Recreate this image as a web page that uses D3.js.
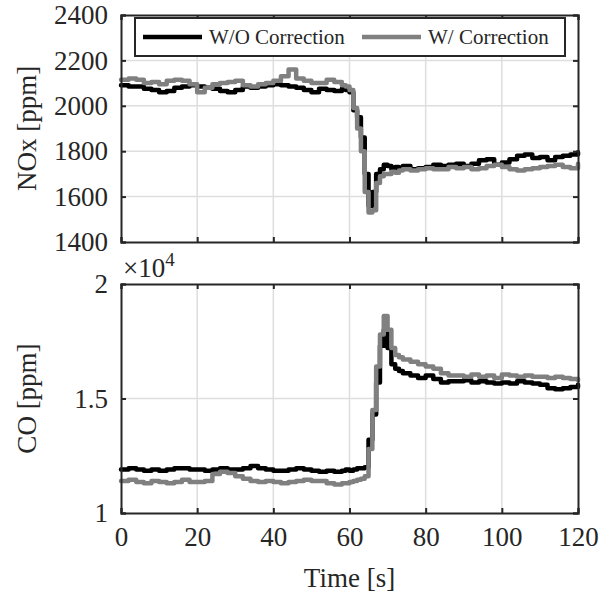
<!DOCTYPE html>
<html>
<head>
<meta charset="utf-8">
<script src="https://cdn.jsdelivr.net/npm/d3@7"></script>
<style>
  body { margin: 0; background: #fff; }
  svg text { font-family: "Liberation Serif", "Times New Roman", "Nimbus Roman", "DejaVu Serif", serif; fill: #262626; }
</style>
</head>
<body>
<div id="chart"></div>
<script>
// DATA (time in s)
var time = [0,2,4,6,8,10,12,14,16,18,20,22,24,26,28,30,32,34,36,38,40,42,44,46,48,50,52,54,56,58,
    59,60,61,62,63,64,65,66,67,68,69,70,71,72,73,74,
    76,78,80,82,84,86,88,90,92,94,96,98,100,102,104,106,108,110,112,114,116,118,120];

var noxWo = [2090,2085,2085,2075,2070,2060,2065,2080,2085,2090,2085,2080,2075,2065,2060,2070,2085,2080,2085,2090,2095,2090,2085,2080,2070,2060,2075,2070,2065,2075,
    2070,2060,1980,1950,1860,1700,1560,1620,1700,1720,1740,1735,1720,1730,1725,1735,
    1720,1725,1730,1740,1735,1740,1745,1735,1745,1760,1765,1740,1750,1765,1780,1785,1770,1775,1760,1775,1780,1785,1795];

var noxW = [2115,2120,2115,2100,2105,2095,2110,2115,2110,2095,2060,2080,2095,2100,2105,2110,2090,2085,2095,2100,2110,2130,2160,2120,2110,2100,2100,2115,2105,2090,
    2085,2070,1990,1900,1800,1620,1530,1540,1660,1690,1700,1700,1710,1705,1715,1720,
    1715,1720,1725,1720,1720,1730,1725,1730,1720,1725,1735,1740,1730,1720,1715,1720,1725,1730,1735,1740,1730,1725,1745];

var coWo = [11900,11950,11900,11850,11900,11850,11900,11950,11950,11900,11900,11850,11900,11950,11900,11900,11950,12050,11950,11900,11850,11850,11900,11950,11900,11850,11800,11850,11800,11850,
    11900,11850,11900,11950,11950,12000,13200,14300,15700,17300,18000,17200,16500,16300,16200,16100,
    16000,15900,16000,15850,15700,15750,15750,15800,15700,15750,15700,15650,15700,15650,15750,15700,15650,15600,15450,15400,15450,15500,15600];

var coW = [11400,11450,11350,11300,11400,11350,11300,11350,11450,11350,11350,11400,11700,11800,11750,11600,11500,11400,11350,11400,11350,11300,11350,11400,11450,11400,11400,11300,11250,11300,
    11300,11350,11400,11450,11500,11600,12800,14500,16400,17800,18600,18000,17200,16900,16800,16700,
    16600,16500,16400,16300,16100,16000,16000,15950,16050,15950,16000,15900,16050,16000,15950,16000,15950,15950,15900,15950,15900,15850,15800];

var xTicks = [0,20,40,60,80,100,120];
var noxTicks = [1400,1600,1800,2000,2200,2400];
var coTicks = [10000,15000,20000];
var coTickLabels = ["1","1.5","2"];
var seriesNames = ["W/O Correction", "W/ Correction"];
var seriesColors = ["#000000", "#808080"];

// LAYOUT
var width = 611, height = 593;
var left = 121, right = 578;
var top1 = 15, bottom1 = 242;
var top2 = 284, bottom2 = 513;
var fontSize = 27;

var svg = d3.select("#chart").append("svg")
    .attr("width", width)
    .attr("height", height);

var x = d3.scaleLinear().domain([0, 120]).range([left, right]);
var yNox = d3.scaleLinear().domain([1400, 2400]).range([bottom1, top1]);
var yCo = d3.scaleLinear().domain([10000, 20000]).range([bottom2, top2]);

function drawPanel(y, yTicks, yTickFormat, series, yLabel, showX) {
    var y0 = y.range()[0], y1 = y.range()[1];
    var g = svg.append("g");

    // grid
    g.selectAll("line.gx").data(xTicks.slice(1, -1)).join("line")
        .attr("x1", d => x(d)).attr("x2", d => x(d))
        .attr("y1", y1).attr("y2", y0)
        .attr("stroke", "#dedede").attr("stroke-width", 1.5);
    g.selectAll("line.gy").data(yTicks.slice(1, -1)).join("line")
        .attr("x1", left).attr("x2", right)
        .attr("y1", d => y(d)).attr("y2", d => y(d))
        .attr("stroke", "#dedede").attr("stroke-width", 1.5);

    // lines
    var line = d3.line()
        .x((d, i) => x(time[i]))
        .y(d => y(d))
        .curve(d3.curveStepAfter);
    series.forEach(function (s, k) {
        g.append("path")
            .attr("d", line(s))
            .attr("fill", "none")
            .attr("stroke", seriesColors[k])
            .attr("stroke-width", 4.5)
            .attr("stroke-linejoin", "round")
            .attr("stroke-linecap", "round");
    });

    // axes with inward ticks on all sides
    var tl = 5;
    var axB = d3.axisBottom(x).tickValues(xTicks).tickSize(-tl).tickPadding(14).tickFormat(showX ? d3.format("d") : "");
    var axT = d3.axisTop(x).tickValues(xTicks).tickSize(-tl).tickFormat("");
    var axL = d3.axisLeft(y).tickValues(yTicks).tickSize(-tl).tickPadding(13).tickFormat(yTickFormat);
    var axR = d3.axisRight(y).tickValues(yTicks).tickSize(-tl).tickFormat("");

    [[axB, "translate(0," + y0 + ")"], [axT, "translate(0," + y1 + ")"],
     [axL, "translate(" + left + ",0)"], [axR, "translate(" + right + ",0)"]].forEach(function (a) {
        var ag = g.append("g").attr("transform", a[1]).call(a[0]);
        ag.attr("font-family", null);
        ag.select(".domain").attr("stroke", "#262626").attr("stroke-width", 2);
        ag.selectAll(".tick line").attr("stroke", "#262626").attr("stroke-width", 2);
        ag.selectAll(".tick text")
            .attr("font-size", fontSize)
            .attr("fill", "#262626");
    });

    // y label
    g.append("text")
        .attr("transform", "translate(36," + ((y0 + y1) / 2) + ") rotate(-90)")
        .attr("text-anchor", "middle")
        .attr("font-size", fontSize)
        .text(yLabel);
    return g;
}

drawPanel(yNox, noxTicks, d3.format("d"), [noxWo, noxW], "NOx [ppm]", false);
drawPanel(yCo, coTicks, (d, i) => coTickLabels[i], [coWo, coW], "CO [ppm]", true);

// exponent label
var expo = svg.append("text")
    .attr("x", left + 2)
    .attr("y", 277)
    .attr("font-size", fontSize);
expo.append("tspan").text("\u00d710");
expo.append("tspan").attr("font-size", 19).attr("dy", -11).text("4");

// x label
svg.append("text")
    .attr("x", (left + right) / 2)
    .attr("y", 587)
    .attr("text-anchor", "middle")
    .attr("font-size", fontSize)
    .text("Time [s]");

// legend
var leg = svg.append("g");
leg.append("rect")
    .attr("x", 135).attr("y", 18)
    .attr("width", 430).attr("height", 38)
    .attr("fill", "#fff")
    .attr("stroke", "#262626").attr("stroke-width", 2);
var legX = [143, 362];
seriesNames.forEach(function (name, k) {
    leg.append("line")
        .attr("x1", legX[k]).attr("x2", legX[k] + 59)
        .attr("y1", 37).attr("y2", 37)
        .attr("stroke", seriesColors[k]).attr("stroke-width", 4.5);
    leg.append("text")
        .attr("x", legX[k] + 66)
        .attr("y", 44)
        .attr("font-size", 21)
        .text(name);
});
</script>
</body>
</html>
